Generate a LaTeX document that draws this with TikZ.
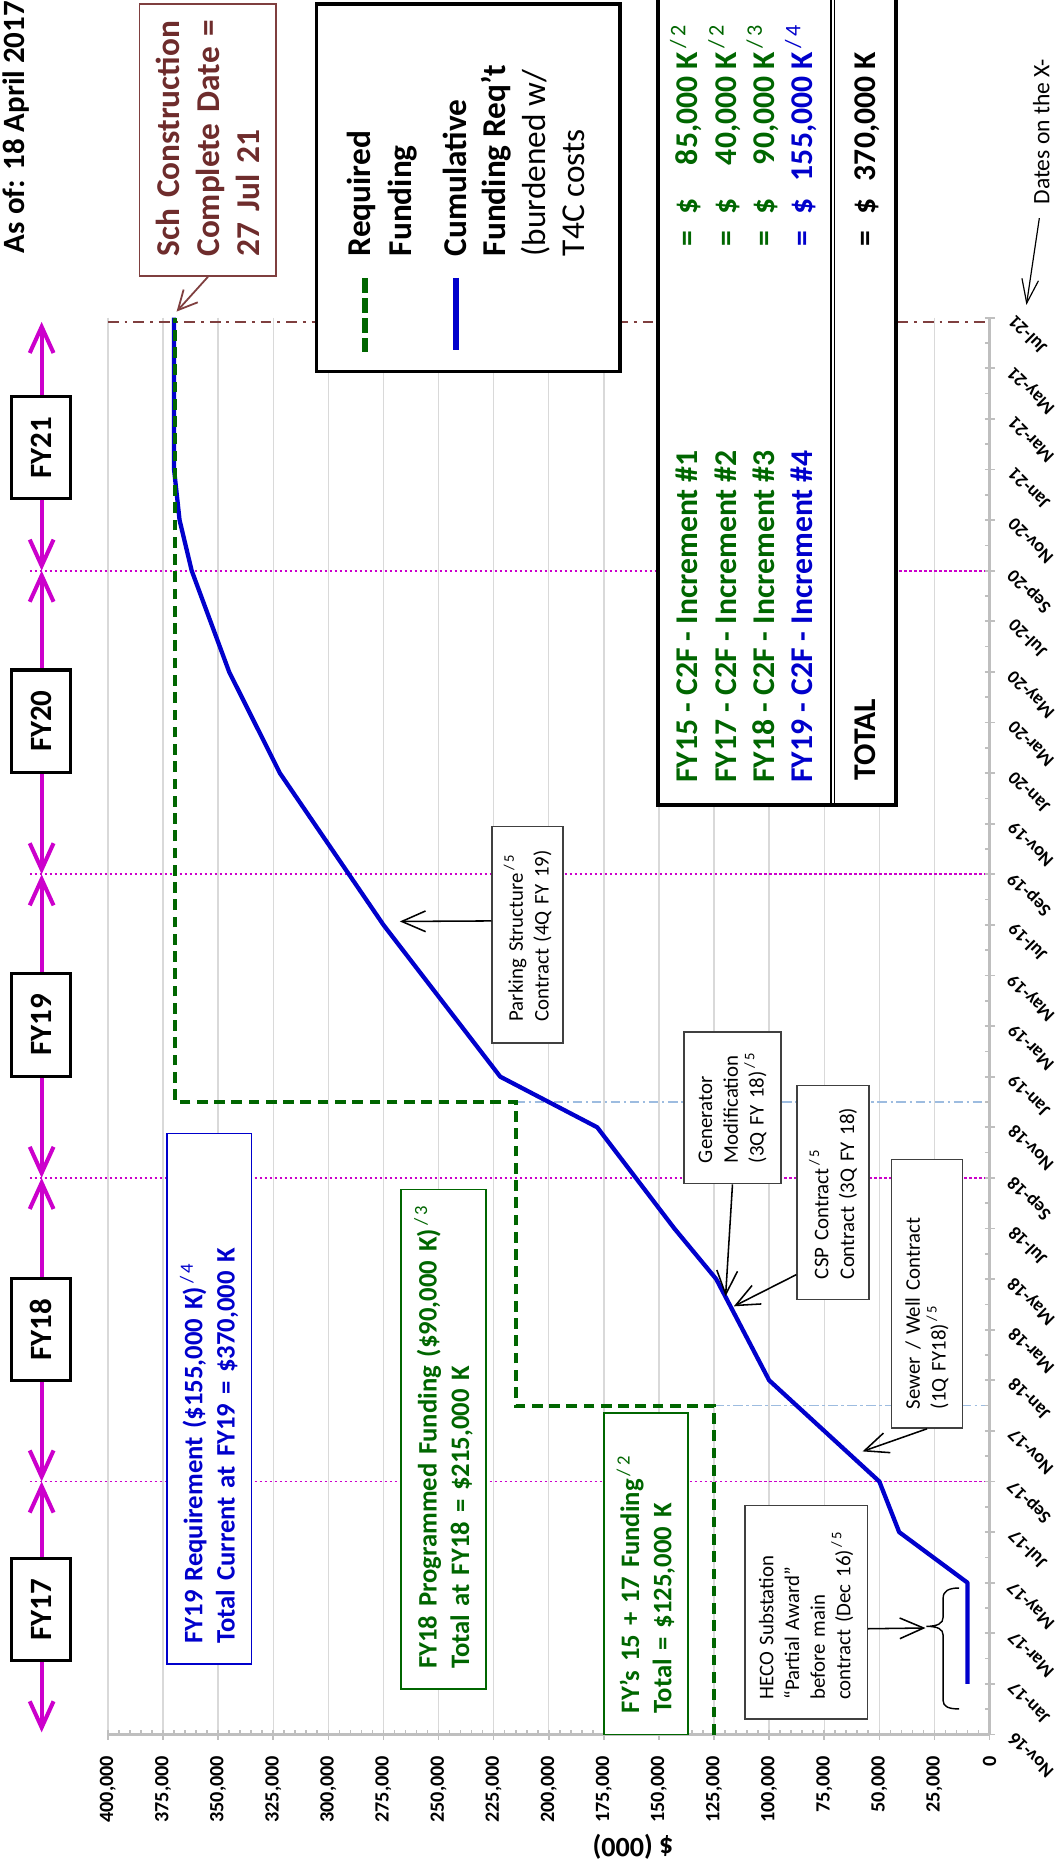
\documentclass[tikz,border=0pt]{standalone}
\usepackage{fontspec}
\setmainfont{Carlito}
\usetikzlibrary{arrows.meta}
\definecolor{fygreen}{HTML}{006600}
\definecolor{fyblue}{HTML}{0000CC}
\definecolor{fymag}{HTML}{CC00CC}
\definecolor{gridc}{HTML}{D9D9D9}
\definecolor{axisc}{HTML}{BFBFBF}
\definecolor{schbrown}{HTML}{6E2C2C}
\definecolor{schline}{HTML}{7F3F3F}
\definecolor{ltblue}{HTML}{9DBCE0}
\newcommand{\fsz}[2]{\fontsize{#1}{#2}\selectfont}
\newcommand{\sups}[1]{\textsuperscript{\mdseries\,/\,#1}}
\begin{document}
\begin{tikzpicture}[x=0.5pt,y=-0.5pt,
  gridln/.style={draw=gridc,line width=0.6pt},
  axisln/.style={draw=axisc,line width=1.1pt},
  axistick/.style={draw=axisc,line width=0.7pt},
  fydot/.style={draw=fymag,line width=0.8pt,dash pattern=on 0.9pt off 1.2pt},
  ltdash/.style={draw=ltblue,line width=0.6pt,dash pattern=on 4pt off 1.5pt on 1pt off 1.5pt},
  browndash/.style={draw=schline,line width=1pt,dash pattern=on 4.5pt off 2.5pt on 1.2pt off 2.5pt},
  bluecurve/.style={draw=fyblue,line width=1.8pt,line join=round},
  greenstep/.style={draw=fygreen,line width=1.7pt,dash pattern=on 4.5pt off 2.75pt},
  fyarrow/.style={draw=fymag,line width=1.7pt,{Straight Barb[length=11pt,width=10pt]}-{Straight Barb[length=11pt,width=10pt]}},
  fybox/.style={draw=black,line width=1.3pt,fill=white,rotate=90,minimum width=43pt,minimum height=24.9pt,inner sep=0pt,font=\bfseries\fsz{13}{15}},
  valab/.style={rotate=90,anchor=east,inner sep=0pt,font=\bfseries\fsz{8.5}{10}},
  datelab/.style={rotate=135,anchor=east,inner sep=0pt,font=\bfseries\fsz{7.8}{9}},
  callout/.style={draw=black!75,line width=0.6pt,fill=white,rotate=90,align=left,inner ysep=0pt,font=\fsz{8.75}{10.8}},
  annot/.style={line width=0.75pt,fill=white,rotate=90,align=left,inner ysep=0pt,font=\bfseries\fsz{11.2}{13.6}},
  callarrow/.style={draw=black,line width=0.65pt,-{Straight Barb[length=10pt,width=8.7pt]}},
  rowtxt/.style={rotate=90,anchor=base west,inner sep=0pt,font=\bfseries\fsz{13.3}{16}},
]
\useasboundingbox (0,0) rectangle (888,1568);
\fill[white] (0,0) rectangle (888,1568);

% gridlines
\foreach \v in {25,50,...,400} \draw[gridln] ({831.5-1.852*\v},267) -- ({831.5-1.852*\v},1457.5);

% fiscal-year boundary lines
\foreach \m in {10,22,34,46} \draw[fydot] (25,{1457.5-21.26*\m}) -- (831.5,{1457.5-21.26*\m});
% light blue step guides
\draw[ltdash] (600,1181.1) -- (831.5,1181.1);
\draw[ltdash] (433.3,926) -- (831.5,926);
% completion date line
\draw[browndash] (90.7,270.5) -- (831.5,270.5);

% axes
\draw[axisln] (90.7,1457.5) -- (831.5,1457.5);
\draw[axisln] (831.5,267) -- (831.5,1457.5);
\foreach \v in {5,10,...,400} \draw[axistick] ({831.5-1.852*\v},1457.5) -- ++(0,-4);
\foreach \v in {0,25,...,400} \draw[axistick] ({831.5-1.852*\v},1457.5) -- ++(0,5);
\foreach \m in {1,3,...,55} \draw[axistick] (831.5,{1457.5-21.26*\m}) -- ++(-4,0);
\foreach \m in {0,2,...,56} \draw[axistick] (827.5,{1457.5-21.26*\m}) -- (836,{1457.5-21.26*\m});

% data
\draw[bluecurve] (812.98,1414.98) -- (812.98,1329.94) -- (755.57,1287.42) -- (738.9,1244.9) -- (692.6,1202.38) -- (646.3,1159.86) -- (601.85,1074.82) -- (566.66,1032.3) -- (501.84,947.26) -- (420.36,904.74) -- (322.2,777.18) -- (235.16,649.62) -- (192.56,564.58) -- (161.08,479.54) -- (150.89,437.02) -- (146.26,394.5) -- (146.26,266.94);
\draw[greenstep] (600,1457.5) -- (600,1181.1) -- (433.3,1181.1) -- (433.3,926) -- (147.3,926) -- (147.3,266.94);

% FY arrows and boxes
\coordinate (b0) at (35,270.5);
\coordinate (b1) at (35,479.54);
\coordinate (b2) at (35,734.66);
\coordinate (b3) at (35,989.78);
\coordinate (b4) at (35,1244.9);
\coordinate (b5) at (35,1455.7);
\draw[fyarrow] (b0) -- (b1);
\draw[fyarrow] (b1) -- (b2);
\draw[fyarrow] (b2) -- (b3);
\draw[fyarrow] (b3) -- (b4);
\draw[fyarrow] (b4) -- (b5);
\node[fybox] (fy21) at (34.7,376.1) {FY21};
\node[fybox] (fy20) at (34.7,606) {FY20};
\node[fybox] (fy19) at (34.7,861.4) {FY19};
\node[fybox] (fy18) at (34.7,1117.2) {FY18};
\node[fybox] (fy17) at (34.7,1352.5) {FY17};

% title
\node[rotate=90,anchor=base west,inner sep=0pt,font=\bfseries\fsz{13}{15}] (title) at (20.5,213) {As of: 18 April 2017};

% completion box
\node[draw=schline,line width=0.75pt,fill=white,rotate=90,align=left,text=schbrown,font=\bfseries\fsz{14}{17},minimum width=114.25pt,minimum height=57.5pt,text width=97.95pt,inner xsep=8.15pt,inner ysep=0pt] (sch) at (174.7,117.65) {\mbox{Sch Construction}\\\mbox{Complete Date =}\\\mbox{27 Jul 21}};
\coordinate (schtip) at (148.4,261.8);
\draw[draw=schline,line width=0.75pt,-{Straight Barb[length=8pt,width=8pt]}] (sch.west) -- (schtip);

% legend
\node[draw=black,line width=1.5pt,fill=white,minimum width=127.5pt,minimum height=154.4pt,inner sep=0pt] (legend) at (393.5,157.8) {};
\draw[draw=fygreen,line width=2.6pt,dash pattern=on 6.3pt off 2.1pt] (306.4,233.8) -- (306.4,295.4);
\draw[draw=fyblue,line width=2.5pt] (383.4,233.6) -- (383.4,294);
\node[rotate=90,anchor=west,inner sep=0pt,align=left,font=\bfseries\fsz{14}{17}] (legreq) at (321.1,215.6) {Required\\Funding};
\node[rotate=90,anchor=west,inner sep=0pt,align=left,font=\fsz{14}{16.5}] (legcum) at (431.8,215.6) {\textbf{Cumulative}\\\textbf{Funding Req’t}\\(burdened w/\\T4C costs};

% increments table
\node[draw=black,line width=1.5pt,fill=white,minimum width=99.8pt,minimum height=340.6pt,inner sep=0pt] (table) at (652.9,335.6) {};
\draw[black,line width=0.7pt] (698,-5) -- (698,676.2);
\draw[black,line width=0.4pt] (701,-5) -- (701,676.2);
\node[rowtxt,text=fygreen] (r1l) at (586.3,658) {FY15 - C2F - Increment \#1};
\node[rowtxt,text=fygreen] (r2l) at (618.5,658) {FY17 - C2F - Increment \#2};
\node[rowtxt,text=fygreen] (r3l) at (650.7,658) {FY18 - C2F - Increment \#3};
\node[rowtxt,text=fyblue] (r4l) at (683,658) {FY19 - C2F - Increment \#4};
\node[rowtxt] (totl) at (735.3,656) {TOTAL};
\node[rowtxt,text=fygreen] (r1r) at (586.3,207.2) {=\hspace{0.5em}\$\hspace{0.55em}\hphantom{1}85,000 K\sups{2}};
\node[rowtxt,text=fygreen] (r2r) at (618.5,207.2) {=\hspace{0.5em}\$\hspace{0.55em}\hphantom{1}40,000 K\sups{2}};
\node[rowtxt,text=fygreen] (r3r) at (650.7,207.2) {=\hspace{0.5em}\$\hspace{0.55em}\hphantom{1}90,000 K\sups{3}};
\node[rowtxt,text=fyblue] (r4r) at (683,207.2) {=\hspace{0.5em}\$\hspace{0.55em}155,000 K\sups{4}};
\node[rowtxt] (totr) at (735.3,207.2) {=\hspace{0.5em}\$\hspace{0.55em}370,000 K};

% annotation boxes
\node[annot,draw=fyblue,text=fyblue,minimum width=222.9pt,minimum height=35.7pt,text width=205.7pt,inner xsep=8.6pt] (fy19req) at (175.7,1175.3) {\mbox{FY19 Requirement (\$155,000 K)\sups{4}}\\\mbox{Total Current at FY19 = \$370,000 K}};
\node[annot,draw=fygreen,text=fygreen,minimum width=210pt,minimum height=35.7pt,text width=192.8pt,inner xsep=8.6pt] (fy18prog) at (372.6,1209.55) {\mbox{FY18 Programmed Funding (\$90,000 K)\sups{3}}\\\mbox{Total at FY18 = \$215,000 K}};
\node[annot,draw=fygreen,text=fygreen,minimum width=135.1pt,minimum height=35.3pt,text width=117.1pt,inner xsep=9pt] (fy1517) at (542.7,1322.4) {\mbox{FY’s 15 + 17 Funding\sups{2}}\\\mbox{Total = \$125,000 K}};

% callouts
\node[callout,minimum width=91pt,minimum height=29.75pt,text width=72.8pt,inner xsep=9.1pt] (park) at (443.35,785.5) {\mbox{Parking Structure\sups{5}}\\\mbox{Contract (4Q FY 19)}};
\node[callout,minimum width=63.85pt,minimum height=40.8pt,text width=46.45pt,inner xsep=8.7pt] (gen) at (615.5,930.85) {Generator\\\mbox{Modification}\\\mbox{(3Q FY 18)\sups{5}}};
\node[callout,minimum width=89.9pt,minimum height=30.15pt,text width=72.8pt,inner xsep=8.55pt] (csp) at (699.95,1002) {\mbox{CSP Contract\sups{5}}\\\mbox{Contract (3Q FY 18)}};
\node[callout,minimum width=112.75pt,minimum height=29.85pt,text width=96.75pt,inner xsep=8pt] (sewer) at (778.95,1087.25) {\mbox{Sewer / Well Contract}\\\mbox{(1Q FY18)\sups{5}}};
\node[callout,minimum width=89.75pt,minimum height=51.5pt,text width=73.55pt,inner xsep=8.1pt] (heco) at (677.4,1354.65) {\mbox{HECO Substation}\\\mbox{“Partial Award”}\\before main\\\mbox{contract (Dec 16)\sups{5}}};

\coordinate (parktip) at (336,774.3);
\coordinate (gentip) at (609.7,1089.3);
\coordinate (csptip) at (616.6,1097.7);
\coordinate (sewertip) at (724.8,1219.6);
\coordinate (hecotip) at (777.7,1368);
\draw[callarrow] (park.69.4) -- (parktip);
\draw[callarrow] (gen.west) -- (gentip);
\draw[callarrow] (csp.156.5) -- (csptip);
\draw[callarrow] (sewer.west) -- (sewertip);
\draw[callarrow] (heco.255.5) -- (hecotip);

% brace over the HECO partial award period
\draw[black,line width=0.6pt] (805.9,1334.4) .. controls (797,1334.4) and (792.5,1337) .. (792.5,1343) -- (792.5,1359) .. controls (792.5,1364) and (788,1366.6) .. (778.5,1366.6) .. controls (788,1366.6) and (792.5,1369) .. (792.5,1374) -- (792.5,1429) .. controls (792.5,1434) and (797,1436) .. (805.9,1436);

% dates note
\node[rotate=90,anchor=west,inner sep=0pt,font=\fsz{9.9}{12}] (dates) at (875,172.2) {Dates on the X-};
\coordinate (datestip) at (862.5,256.2);
\draw[draw=black,line width=0.5pt,shorten <=5.6pt,-{Straight Barb[length=10pt,width=7pt]}] (dates.west) -- (datestip);

% axis labels
\node[valab] (vl0) at (831.5,1475) {0};
\foreach \v in {25,50,...,400} \node[valab] (vl\v) at ({831.5-1.852*\v},1475) {\v,000};
\foreach \lab [count=\i from 0] in {Nov-16,Jan-17,Mar-17,May-17,Jul-17,Sep-17,Nov-17,Jan-18,Mar-18,May-18,Jul-18,Sep-18,Nov-18,Jan-19,Mar-19,May-19,Jul-19,Sep-19,Nov-19,Jan-20,Mar-20,May-20,Jul-20,Sep-20,Nov-20,Jan-21,Mar-21,May-21,Jul-21}
  \node[datelab] (dl\i) at (849.5,{1458.5-42.52*\i}) {\lab};
\node[rotate=180,font=\bfseries\fsz{11.8}{14},inner sep=0pt] (ytitle) at (532,1552) {\$ (000)};
\end{tikzpicture}
\end{document}
